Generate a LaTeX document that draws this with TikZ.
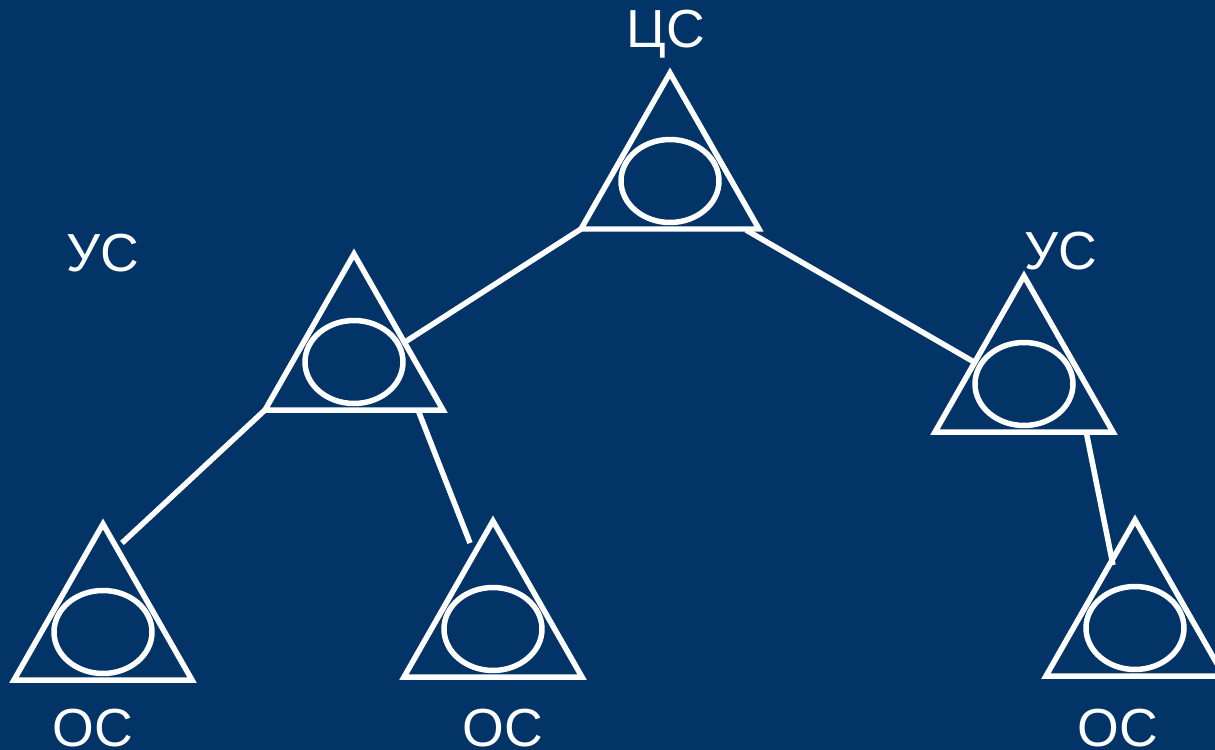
\documentclass[tikz,border=0pt]{standalone}
\usepackage{fontspec}
\setmainfont{Liberation Sans}
\definecolor{bg}{RGB}{2,52,103}
\tikzset{
  wl/.style={draw=white, line width=0.11cm},
  lbl/.style={text=white, anchor=base, inner sep=0pt, font=\fontsize{30.5}{32}\selectfont},
}
\newcommand\mytri[3]{%
  \path (#2,#3) coordinate (#1-a) ++(-89,156) coordinate (#1-l) ++(178,0) coordinate (#1-r);
  \draw[wl] (#1-a) -- (#1-l) -- (#1-r) -- cycle;
  \draw[wl] (#2,#3+108) ellipse [x radius=0.98cm, y radius=0.83cm];
}
\begin{document}
\begin{tikzpicture}[x=0.02cm,y=-0.02cm]
\fill[bg] (0,0) rectangle (1215,750);
\useasboundingbox (0,0) rectangle (1215,750);
\mytri{t1}{670}{73}
\mytri{t2}{354}{254}
\mytri{t3}{1024}{276}
\mytri{t4}{103}{524}
\mytri{t5}{493}{521}
\mytri{t6}{1135}{520}
% connector end points
\coordinate (p1) at (405,342);
\coordinate (s2) at (746,230);
\coordinate (p2) at (974,362);
\coordinate (p3) at (122,543);
\coordinate (s4) at (418,410);
\coordinate (p4) at (470,543);
\coordinate (s5) at (1086,431);
\coordinate (p5) at (1113,565);
\draw[wl] (t1-l) -- (p1);
\draw[wl] (s2) -- (p2);
\draw[wl] (t2-l) -- (p3);
\draw[wl] (s4) -- (p4);
\draw[wl] (s5) -- (p5);
% labels
\node[lbl] (cs) at (666,48) {ЦС};
\node[lbl] (us1) at (103,272) {УС};
\node[lbl] (us2) at (1061,270) {УС};
\node[lbl] (os1) at (93,746) {ОС};
\node[lbl] (os2) at (503,746) {ОС};
\node[lbl] (os3) at (1118,746) {ОС};
\end{tikzpicture}
\end{document}
